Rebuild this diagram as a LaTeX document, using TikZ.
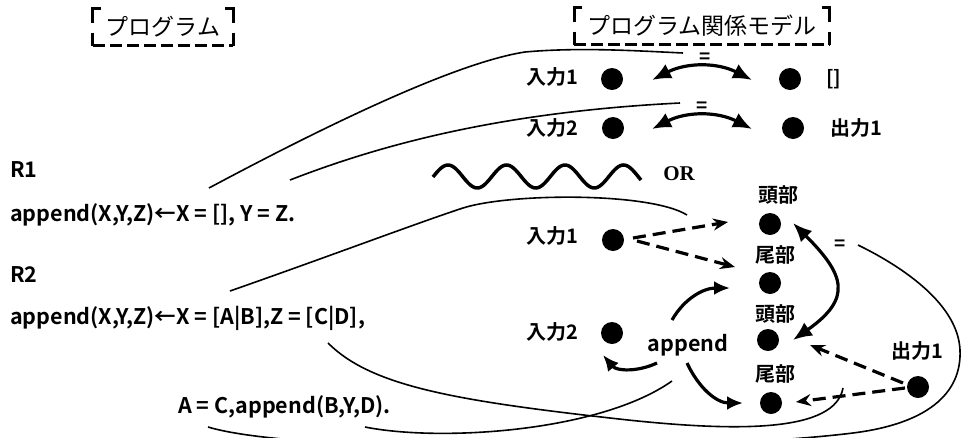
\documentclass[tikz,border=0pt]{standalone}
\usepackage{fontspec}
\setmainfont{Noto Sans CJK JP}[BoldFont=* Bold]
\newfontfamily\orfont{Liberation Serif}
\usetikzlibrary{arrows.meta,calc}

\tikzset{
  dot/.style={circle, fill=black, minimum size=22pt, inner sep=0pt},
  lbl/.style={font=\bfseries\fontsize{20}{20}\selectfont, inner sep=0pt},
  prog/.style={font=\bfseries\fontsize{21.5}{21.5}\selectfont, inner sep=0pt, anchor=base west},
  ttl/.style={font=\fontsize{23}{23}\selectfont, minimum height=37pt, inner sep=0pt},
  eqsign/.style={font=\bfseries\fontsize{19}{19}\selectfont, inner sep=0pt},
  frameline/.style={line width=3.2pt},
  link/.style={line width=1.6pt},
  rel/.style={line width=3.2pt, -{Latex[length=16pt,width=14pt]}},
  relboth/.style={line width=3.2pt, {Latex[length=19pt,width=16pt]}-{Latex[length=19pt,width=16pt]}},
  dasharrow/.style={line width=3.2pt, dash pattern=on 13pt off 7pt, -{Stealth[length=15pt,width=12pt,inset=5pt]}},
}

% frame of a title: solid corners, dashed bottom
\newcommand{\brackframe}[1]{%
  \draw[frameline] ([xshift=8pt]#1.north west) -| ([yshift=-15pt]#1.north west);
  \draw[frameline] ([xshift=-8pt]#1.north east) -| ([yshift=-15pt]#1.north east);
  \draw[frameline] ([yshift=13pt]#1.south west) -- (#1.south west);
  \draw[frameline] ([yshift=13pt]#1.south east) -- (#1.south east);
  \draw[frameline, dash pattern=on 12pt off 5pt] (#1.south west) -- (#1.south east);
}

\begin{document}
\begin{tikzpicture}[x=1pt, y=-1pt]
    \useasboundingbox (0,0) rectangle (962,437);

    % ===== PROGRAMMA =====
    \node[ttl, minimum width=140pt] (ttlprog) at (163,27) {プログラム};
    \brackframe{ttlprog}

    \node[prog] (r1) at (10,177) {R1};
    \node[prog] (cl1) at (10,221) {append(X,Y,Z)←X = [], Y = Z.};
    \node[prog] (r2) at (10,282) {R2};
    \node[prog] (cl2) at (10,324) {append(X,Y,Z)←X = [A|B],Z = [C|D],};
    \node[prog] (cl2b) at (178,413) {A = C,append(B,Y,D).};

    % ===== MODELLO =====
    \def\xM{770}
    \node[ttl, minimum width=255pt] (ttlmod) at (702,26) {プログラム関係モデル};
    \brackframe{ttlmod}

    % R1: unificazioni
    \node[dot] (in1) at (612,79) {};
    \node[lbl, anchor=east] (in1l) at (578,77) {入力1};
    \node[dot] (nil) at (790,79) {};
    \node[lbl, anchor=west] (nill) at (826,79) {[]};
    \node[dot] (in2) at (613,128) {};
    \node[lbl, anchor=east] (in2l) at (578,128) {入力2};
    \node[dot] (out1) at (793,128) {};
    \node[lbl, anchor=west] (out1l) at (830,128) {出力1};
    \node[eqsign] (eq1) at (705,58) {=};
    \node[eqsign] (eq2) at (702,107) {=};
    \draw[relboth] ($(in1)+(40,1)$) to[bend left=27] ($(nil)+(-38,1)$);
    \draw[relboth] ($(in2)+(39,1)$) to[bend left=27] ($(out1)+(-41,1)$);

    % OR
    \draw[line width=3.5pt] plot[domain=433:641, samples=120, smooth]
        (\x, {176.5-11.5*cos(((\x-448)/58.5)*360)});
    \node[font=\orfont\bfseries\fontsize{21}{21}\selectfont, inner sep=0pt] (orl) at (679,174) {OR};

    % R2: liste
    \node[dot] (in1b) at (613,240) {};
    \node[lbl, anchor=east] (in1bl) at (578,236) {入力1};
    \node[dot] (in2b) at (612,333) {};
    \node[lbl, anchor=east] (in2bl) at (578,332) {入力2};
    \node[lbl, font=\bfseries\fontsize{21.5}{21.5}\selectfont] (app) at (688,345) {append};
    \node[dot] (h1) at (\xM,224) {};
    \node[lbl] (h1l) at (\xM+8,195) {頭部};
    \node[dot] (t1) at (\xM,283) {};
    \node[lbl] (t1l) at (\xM+5,255) {尾部};
    \node[dot] (h2) at (\xM-2,340) {};
    \node[lbl] (h2l) at (\xM+5,314) {頭部};
    \node[dot] (t2) at (\xM+1,403) {};
    \node[lbl] (t2l) at (\xM+5,374) {尾部};
    \node[dot] (out1b) at (918,387) {};
    \node[lbl] (out1bl) at (917,351) {出力1};
    \node[eqsign] (eq3) at (840,245) {=};

    \draw[dasharrow] ($(in1b)+(20,-2)$) -- ($(h1)+(-42,-2)$);
    \draw[dasharrow] ($(in1b)+(24,1)$) -- ($(t1)+(-35,-16)$);
    \draw[rel] ($(app)+(-16,-25)$) to[out=60, in=180] ($(t1)+(-40,5)$);
    \draw[rel] ($(app)+(-31,18)$) to[out=205, in=-50] ($(in2b)+(-9,22)$);
    \draw[rel] ($(app)+(-1,18)$) to[out=-65, in=180] ($(t2)+(-28,0)$);
    \draw[relboth] ($(h1)+(23,-1)$) to[out=-45, in=35, looseness=1.6] ($(h2)+(25,0)$);
    \draw[dasharrow] ($(out1b)+(-15,-4)$) -- ($(h2)+(42,5)$);
    \draw[dasharrow] ($(out1b)+(-13,1)$) -- ($(t2)+(25,-1)$);

    % ===== CORRISPONDENZE =====
    \coordinate (xnil) at (209,188);
    \coordinate (xnilend) at (683,53);
    \coordinate (yz) at (290,180);
    \coordinate (yzend) at (680,103);
    \coordinate (xab) at (230,291);
    \coordinate (xabend) at (687,215);
    \coordinate (cd) at (328,343);
    \coordinate (cdend) at (843,388);
    \coordinate (rec) at (365,427);
    \coordinate (recend) at (672,381);
    \coordinate (ac) at (208,427);
    \coordinate (acend) at (858,245);

    \draw[link] (xnil) .. controls (340,118) and (460,62) .. (525,52)
        .. controls (580,47) and (640,51) .. (xnilend);
    \draw[link] (yz) .. controls (380,145) and (500,112) .. (yzend);
    \draw[link] (xab) .. controls (330,256) and (420,222) .. (463,208)
        .. controls (510,193) and (650,192) .. (xabend);
    \draw[link] (cd) .. controls (370,385) and (450,400) .. (610,418)
        .. controls (740,433) and (835,432) .. (cdend);
    \draw[link] (rec) .. controls (440,442) and (600,432) .. (recend);
    \draw[link] (ac) .. controls (300,455) and (700,452) .. (853,433)
        .. controls (925,424) and (962,395) .. (960,350)
        .. controls (958,305) and (905,268) .. (acend);
\end{tikzpicture}
\end{document}
